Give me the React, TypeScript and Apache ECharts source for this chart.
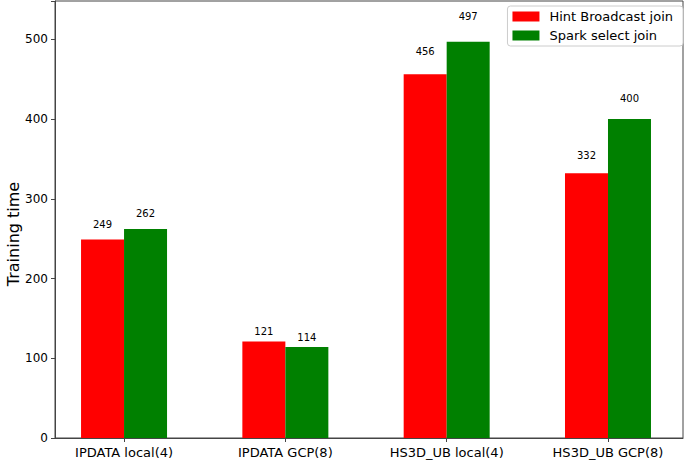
import React, { useEffect, useRef } from "react";
import * as echarts from "echarts";

const categories = ["IPDATA local(4)", "IPDATA GCP(8)", "HS3D_UB local(4)", "HS3D_UB GCP(8)"];
const hintBroadcast = [249, 121, 456, 332];
const sparkSelect = [262, 114, 497, 400];
const seriesNames = ["Hint Broadcast join", "Spark select join"];
const yTicks = [0, 100, 200, 300, 400, 500];
const xTickPositions = [0, 1, 2, 3];

const W = 685;
const H = 466;
const GRID_TOP = 1;
const GRID_BOTTOM = 28;
const Y_MAX = 548;
const X_MIN = -0.428;
const X_MAX = 3.465;
const FONT = "DejaVu Sans";

export default function App() {
  const ref = useRef<HTMLDivElement>(null);
  useEffect(() => {
    if (!ref.current) return;
    const chart = echarts.init(ref.current, undefined, { renderer: "svg" });
    const pxPerUnit = (H - GRID_TOP - GRID_BOTTOM) / Y_MAX;
    const mk = (vals: number[]) =>
      vals.map((v, i) => ({
        value: [xTickPositions[i], v],
        label: { distance: v * 0.05 * pxPerUnit },
      }));
    const labelCfg = {
      show: true,
      position: "top" as const,
      color: "#000",
      fontFamily: FONT,
      fontSize: 10,
      formatter: (p: any) => String(p.value[1]),
    };
    chart.setOption({
      animation: false,
      backgroundColor: "#fff",
      textStyle: { fontFamily: FONT },
      grid: {
        left: 55,
        right: 2,
        top: GRID_TOP,
        bottom: GRID_BOTTOM,
        outerBoundsMode: "none",
        containLabel: false,
        show: true,
        borderColor: "#444",
        borderWidth: 1,
        backgroundColor: "transparent",
      },
      legend: {
        orient: "vertical",
        right: 2,
        top: 6,
        data: seriesNames,
        itemWidth: 27,
        itemHeight: 10,
        itemGap: 6,
        padding: [4, 10, 4, 5],
        borderColor: "#ccc",
        borderWidth: 1,
        borderRadius: 3,
        backgroundColor: "#fff",
        icon: "rect",
        textStyle: { fontFamily: FONT, fontSize: 13, color: "#000", padding: [0, 0, 0, 5] },
      },
      graphic: [
        {
          type: "text",
          x: 13,
          y: 234,
          rotation: Math.PI / 2,
          style: {
            text: "Training time",
            fontFamily: FONT,
            fontSize: 16,
            fill: "#000",
            align: "center",
            verticalAlign: "middle",
          },
        },
      ],
      xAxis: {
        type: "value",
        min: X_MIN,
        max: X_MAX,
        splitLine: { show: false },
        axisLine: { show: true, onZero: false, lineStyle: { color: "#444" } },
        axisTick: {
          show: true,
          customValues: xTickPositions,
          length: 4,
          lineStyle: { color: "#444" },
        },
        axisLabel: {
          customValues: xTickPositions,
          fontFamily: FONT,
          fontSize: 13,
          color: "#000",
          margin: 8,
          formatter: (v: number) => categories[Math.round(v)] ?? "",
        },
      },
      yAxis: {
        type: "value",
        min: 0,
        max: Y_MAX,
        interval: 100,
        axisLine: { show: true, onZero: false, lineStyle: { color: "#444" } },
        axisTick: { show: true, length: 4, lineStyle: { color: "#444" } },
        splitLine: { show: false },
        axisLabel: {
          fontFamily: FONT,
          fontSize: 12,
          color: "#000",
          margin: 7,
          formatter: (v: number) => (yTicks.includes(v) ? String(v) : ""),
        },
      },
      series: [
        {
          name: seriesNames[0],
          type: "bar",
          data: mk(hintBroadcast),
          barWidth: 43,
          barGap: "0%",
          itemStyle: { color: "#ff0000" },
          label: labelCfg,
        },
        {
          name: seriesNames[1],
          type: "bar",
          data: mk(sparkSelect),
          barWidth: 43,
          barGap: "0%",
          itemStyle: { color: "#008000" },
          label: labelCfg,
        },
      ],
    });
    return () => chart.dispose();
  }, []);
  return (
    <div
      ref={ref}
      style={{ position: "fixed", left: 0, top: 0, width: W, height: H }}
    />
  );
}
